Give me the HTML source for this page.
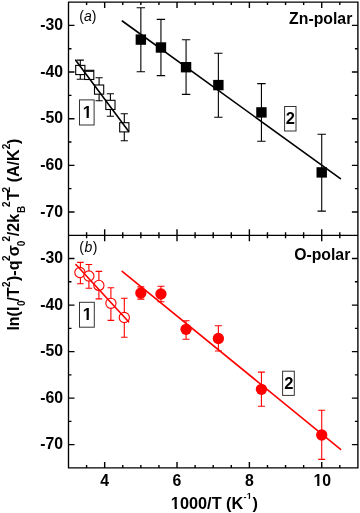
<!DOCTYPE html><html><head><meta charset="utf-8"><style>html,body{margin:0;padding:0;background:#fff;}svg{display:block;}text{font-family:"Liberation Sans",Arial,sans-serif;fill:#000;}</style></head><body>
<svg width="360" height="513" viewBox="0 0 360 513">
<defs><clipPath id="c1_0"><rect x="311.538" y="465.040" width="17.800" height="18.960"/><rect x="317.225" y="482.000" width="2.168" height="4.612"/></clipPath><clipPath id="c1_1"><rect x="168.870" y="487.440" width="18.300" height="19.560"/><rect x="174.674" y="505.000" width="2.236" height="4.663"/></clipPath><clipPath id="c1_2"><rect x="244.630" y="487.200" width="11.000" height="10.800"/><rect x="248.731" y="496.000" width="1.235" height="3.918"/></clipPath><clipPath id="c1_3"><rect x="80.672" y="96.200" width="18.500" height="19.800"/><rect x="86.523" y="114.000" width="2.264" height="4.684"/></clipPath><clipPath id="c1_4"><rect x="80.672" y="298.200" width="18.500" height="19.800"/><rect x="86.523" y="316.000" width="2.264" height="4.684"/></clipPath></defs>
<path d="M86.59,2.1v3.0M86.59,232.3v6.0M86.59,467.9v-3.0M104.67,2.1v6.0M104.67,229.3v12.0M104.67,467.9v-6.0M122.76,2.1v3.0M122.76,232.3v6.0M122.76,467.9v-3.0M140.85,2.1v3.0M140.85,232.3v6.0M140.85,467.9v-3.0M158.94,2.1v3.0M158.94,232.3v6.0M158.94,467.9v-3.0M177.02,2.1v6.0M177.02,229.3v12.0M177.02,467.9v-6.0M195.11,2.1v3.0M195.11,232.3v6.0M195.11,467.9v-3.0M213.20,2.1v3.0M213.20,232.3v6.0M213.20,467.9v-3.0M231.29,2.1v3.0M231.29,232.3v6.0M231.29,467.9v-3.0M249.38,2.1v6.0M249.38,229.3v12.0M249.38,467.9v-6.0M267.46,2.1v3.0M267.46,232.3v6.0M267.46,467.9v-3.0M285.55,2.1v3.0M285.55,232.3v6.0M285.55,467.9v-3.0M303.64,2.1v3.0M303.64,232.3v6.0M303.64,467.9v-3.0M321.72,2.1v6.0M321.72,229.3v12.0M321.72,467.9v-6.0M339.81,2.1v3.0M339.81,232.3v6.0M339.81,467.9v-3.0M68.5,211.98h6.0M357.9,211.98h-6.0M68.5,444.64h6.0M357.9,444.64h-6.0M68.5,188.66h3.0M357.9,188.66h-3.0M68.5,421.38h3.0M357.9,421.38h-3.0M68.5,165.34h6.0M357.9,165.34h-6.0M68.5,398.12h6.0M357.9,398.12h-6.0M68.5,142.02h3.0M357.9,142.02h-3.0M68.5,374.86h3.0M357.9,374.86h-3.0M68.5,118.70h6.0M357.9,118.70h-6.0M68.5,351.60h6.0M357.9,351.60h-6.0M68.5,95.38h3.0M357.9,95.38h-3.0M68.5,328.34h3.0M357.9,328.34h-3.0M68.5,72.06h6.0M357.9,72.06h-6.0M68.5,305.08h6.0M357.9,305.08h-6.0M68.5,48.74h3.0M357.9,48.74h-3.0M68.5,281.82h3.0M357.9,281.82h-3.0M68.5,25.42h6.0M357.9,25.42h-6.0M68.5,258.56h6.0M357.9,258.56h-6.0" stroke="#000" stroke-width="1.4" fill="none"/>
<path d="M68.5,2.1H357.9V467.9H68.5ZM68.5,235.3H357.9" stroke="#000" stroke-width="1.35" fill="none"/>
<g font-size="15.8" font-weight="bold" text-anchor="end">
<text x="63" y="30.12">-30</text>
<text x="63" y="263.26">-30</text>
<text x="63" y="76.76">-40</text>
<text x="63" y="309.78">-40</text>
<text x="63" y="123.40">-50</text>
<text x="63" y="356.30">-50</text>
<text x="63" y="170.04">-60</text>
<text x="63" y="402.82">-60</text>
<text x="63" y="216.68">-70</text>
<text x="63" y="449.34">-70</text>
</g>
<g font-size="15.8" font-weight="bold">
<text x="104.67" y="485.6" text-anchor="middle">4</text>
<text x="177.02" y="485.6" text-anchor="middle">6</text>
<text x="249.38" y="485.6" text-anchor="middle">8</text>
<text x="313.538" y="485.612" font-size="15.8" clip-path="url(#c1_0)">1</text>
<text x="322.32" y="485.6">0</text>
</g>
<g font-weight="bold">
<text x="170.870" y="508.663" font-size="16.3" clip-path="url(#c1_1)">1</text>
<text x="179.94" y="508.8" font-size="16.3">000/T (K</text>
<text x="243.45" y="499.5" font-size="9">-</text>
<text x="246.630" y="498.918" font-size="9" clip-path="url(#c1_2)">1</text>
<text x="252.4" y="508.8" font-size="16.3">)</text>
</g>
<text transform="translate(18.7,0) rotate(-90)" font-weight="bold"><tspan x="-330.6" y="0" font-size="16">ln(I</tspan><tspan x="-305.9" y="6.6" font-size="10">0</tspan><tspan x="-301.46" y="0" font-size="16">/T</tspan><tspan x="-287.1" y="-8.9" font-size="10">2</tspan><tspan x="-281.0" y="0" font-size="16">)-q</tspan><tspan x="-261.0" y="-8.9" font-size="10">2</tspan><tspan x="-256.2" y="0" font-size="16">σ</tspan><tspan x="-246.2" y="6.6" font-size="10">0</tspan><tspan x="-241.6" y="-8.9" font-size="10">2</tspan><tspan x="-236.2" y="0" font-size="16">/2k</tspan><tspan x="-212.9" y="6.6" font-size="10">B</tspan><tspan x="-206.9" y="-8.9" font-size="10">2</tspan><tspan x="-200.6" y="0" font-size="16">T</tspan><tspan x="-192.4" y="-8.9" font-size="10">2</tspan><tspan x="-182.3" y="0" font-size="16">(A/K</tspan><tspan x="-149.2" y="-8.9" font-size="10">2</tspan><tspan x="-144.0" y="0" font-size="16">)</tspan></text>
<text x="79.33" y="20.6" font-size="14">(<tspan font-style="italic">a</tspan>)</text>
<text x="79.33" y="252.4" font-size="14">(<tspan font-style="italic" dx="0.4">b</tspan><tspan dx="0.5">)</tspan></text>
<text x="352.3" y="24" font-size="15.8" font-weight="bold" text-anchor="end">Zn-polar</text>
<text x="350.3" y="259.6" font-size="15.8" font-weight="bold" text-anchor="end">O-polar</text>
<rect x="79.5" y="99.9" width="14.60" height="25.10" fill="#fff" stroke="#333" stroke-width="1"/>
<text x="82.672" y="117.684" font-size="16.5" clip-path="url(#c1_3)" font-weight="bold">1</text>
<rect x="284.6" y="106.5" width="11.40" height="24.50" fill="#fff" stroke="#333" stroke-width="1"/>
<text x="285.8225" y="123.6" font-size="16.5" font-weight="bold">2</text>
<rect x="79.5" y="302.3" width="14.80" height="24.90" fill="#fff" stroke="#333" stroke-width="1"/>
<text x="82.672" y="319.684" font-size="16.5" clip-path="url(#c1_4)" font-weight="bold">1</text>
<rect x="282.6" y="371.2" width="11.70" height="24.20" fill="#fff" stroke="#333" stroke-width="1"/>
<text x="284.2225" y="389.3" font-size="16.5" font-weight="bold">2</text>
<path d="M76.70,60.1h7.2M80.30,60.1V79.2M76.70,79.2h7.2" stroke="#000" stroke-width="1.1" fill="none"/>
<path d="M85.60,70.6h7.2M89.20,70.6V79.2M85.60,79.2h7.2" stroke="#000" stroke-width="1.1" fill="none"/>
<path d="M95.50,77.7h7.2M99.10,77.7V100.7M95.50,100.7h7.2" stroke="#000" stroke-width="1.1" fill="none"/>
<path d="M106.80,93.8h7.2M110.40,93.8V116.2M106.80,116.2h7.2" stroke="#000" stroke-width="1.1" fill="none"/>
<path d="M120.70,113.8h7.2M124.30,113.8V140.7M120.70,140.7h7.2" stroke="#000" stroke-width="1.1" fill="none"/>
<rect x="75.70" y="65.40" width="9.2" height="9.2" fill="#fff" stroke="#000" stroke-width="1.1"/>
<rect x="84.60" y="70.30" width="9.2" height="9.2" fill="#fff" stroke="#000" stroke-width="1.1"/>
<rect x="94.50" y="85.00" width="9.2" height="9.2" fill="#fff" stroke="#000" stroke-width="1.1"/>
<rect x="105.80" y="100.30" width="9.2" height="9.2" fill="#fff" stroke="#000" stroke-width="1.1"/>
<rect x="119.70" y="122.70" width="9.2" height="9.2" fill="#fff" stroke="#000" stroke-width="1.1"/>
<path d="M84.6,71.3h9.2" stroke="#000" stroke-width="1.1"/>
<path d="M75.7,60.2L128.4,131.1" stroke="#000" stroke-width="1.6" stroke-linecap="round"/>
<path d="M136.65,7.8h8.4M140.85,7.8V71.7M136.65,71.7h8.4" stroke="#000" stroke-width="1.1" fill="none"/>
<rect x="135.65" y="34.40" width="10.4" height="10.4" fill="#000"/>
<path d="M156.75,19.4h8.4M160.95,19.4V75.6M156.75,75.6h8.4" stroke="#000" stroke-width="1.1" fill="none"/>
<rect x="155.75" y="42.30" width="10.4" height="10.4" fill="#000"/>
<path d="M181.87,39.7h8.4M186.07,39.7V94.4M181.87,94.4h8.4" stroke="#000" stroke-width="1.1" fill="none"/>
<rect x="180.87" y="62.00" width="10.4" height="10.4" fill="#000"/>
<path d="M214.17,53.3h8.4M218.37,53.3V117.2M214.17,117.2h8.4" stroke="#000" stroke-width="1.1" fill="none"/>
<rect x="213.17" y="79.90" width="10.4" height="10.4" fill="#000"/>
<path d="M257.23,83.6h8.4M261.43,83.6V141.3M257.23,141.3h8.4" stroke="#000" stroke-width="1.1" fill="none"/>
<rect x="256.23" y="107.20" width="10.4" height="10.4" fill="#000"/>
<path d="M317.52,134.2h8.4M321.72,134.2V211.1M317.52,211.1h8.4" stroke="#000" stroke-width="1.1" fill="none"/>
<rect x="316.52" y="167.20" width="10.4" height="10.4" fill="#000"/>
<path d="M122.3,21.0L340.4,178.6" stroke="#000" stroke-width="1.6" stroke-linecap="round"/>
<path d="M77.10,262.4h6.6M80.40,262.4V283.7M77.10,283.7h6.6" stroke="#ff0000" stroke-width="1.1" fill="none"/>
<path d="M85.60,264.5h6.6M88.90,264.5V288.3M85.60,288.3h6.6" stroke="#ff0000" stroke-width="1.1" fill="none"/>
<path d="M95.60,271.4h6.6M98.90,271.4V298.9M95.60,298.9h6.6" stroke="#ff0000" stroke-width="1.1" fill="none"/>
<path d="M107.60,287.7h6.6M110.90,287.7V320.4M107.60,320.4h6.6" stroke="#ff0000" stroke-width="1.1" fill="none"/>
<path d="M121.00,298.2h6.6M124.30,298.2V337.3M121.00,337.3h6.6" stroke="#ff0000" stroke-width="1.1" fill="none"/>
<circle cx="79.9" cy="272.5" r="5.1" fill="#fff" stroke="#ff0000" stroke-width="1.1"/>
<circle cx="88.9" cy="276.0" r="5.1" fill="#fff" stroke="#ff0000" stroke-width="1.1"/>
<circle cx="98.9" cy="285.4" r="5.1" fill="#fff" stroke="#ff0000" stroke-width="1.1"/>
<circle cx="110.9" cy="303.3" r="5.1" fill="#fff" stroke="#ff0000" stroke-width="1.1"/>
<circle cx="124.3" cy="317.5" r="5.1" fill="#fff" stroke="#ff0000" stroke-width="1.1"/>
<path d="M75.9,264.5L128.6,321.8" stroke="#ff0000" stroke-width="1.6" stroke-linecap="round"/>
<path d="M137.35,286.9h7M140.85,286.9V299.1M137.35,299.1h7" stroke="#ff0000" stroke-width="1.1" fill="none"/>
<circle cx="140.85" cy="293.0" r="5.65" fill="#ff0000"/>
<path d="M157.45,286.3h7M160.95,286.3V301.7M157.45,301.7h7" stroke="#ff0000" stroke-width="1.1" fill="none"/>
<circle cx="160.95" cy="294.0" r="5.65" fill="#ff0000"/>
<path d="M182.57,320.7h7M186.07,320.7V339.3M182.57,339.3h7" stroke="#ff0000" stroke-width="1.1" fill="none"/>
<circle cx="186.07" cy="329.3" r="5.65" fill="#ff0000"/>
<path d="M214.87,325.8h7M218.37,325.8V351.0M214.87,351.0h7" stroke="#ff0000" stroke-width="1.1" fill="none"/>
<circle cx="218.37" cy="338.5" r="5.65" fill="#ff0000"/>
<path d="M257.93,372.1h7M261.43,372.1V406.3M257.93,406.3h7" stroke="#ff0000" stroke-width="1.1" fill="none"/>
<circle cx="261.43" cy="389.3" r="5.65" fill="#ff0000"/>
<path d="M318.22,410.3h7M321.72,410.3V459.4M318.22,459.4h7" stroke="#ff0000" stroke-width="1.1" fill="none"/>
<circle cx="321.72" cy="435.0" r="5.65" fill="#ff0000"/>
<path d="M122.2,271.3L340.6,449.3" stroke="#ff0000" stroke-width="1.6" stroke-linecap="round"/>
</svg></body></html>
